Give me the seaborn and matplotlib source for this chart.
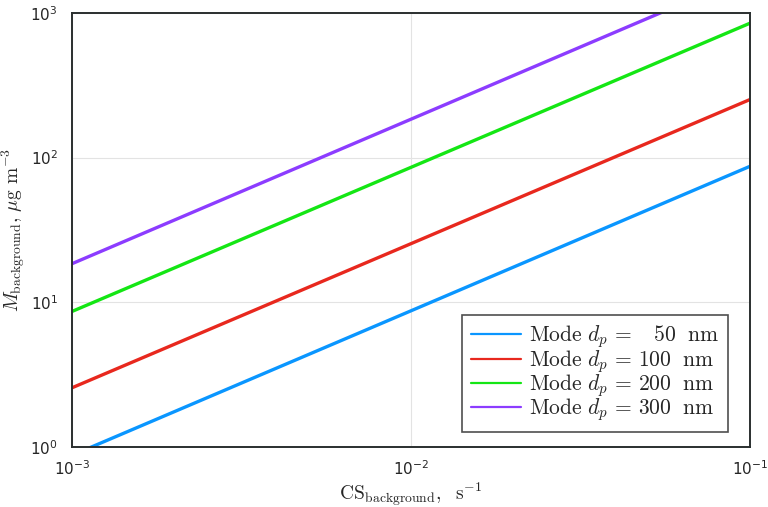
import pandas as pd
import numpy as np
import seaborn as sns
import matplotlib.pyplot as plt
from matplotlib.font_manager import FontProperties
from matplotlib.ticker import NullLocator, LogLocator

## Data (straight lines in log-log)
cs = [1e-3, 1e-1]
m_50 = [0.87, 87]
m_100 = [2.55, 252]
m_200 = [8.6, 850]
m_300 = [18.4, 1840]

labels = [r'$\mathrm{Mode}\ d_p\, =\ \ \ 50\ \ \mathrm{nm}$',
          r'$\mathrm{Mode}\ d_p\, =\, 100\ \ \mathrm{nm}$',
          r'$\mathrm{Mode}\ d_p\, =\, 200\ \ \mathrm{nm}$',
          r'$\mathrm{Mode}\ d_p\, =\, 300\ \ \mathrm{nm}$']
colors = ['#0a96ff', '#e8281e', '#14e614', '#8c3cff']

df = pd.concat([
    pd.DataFrame({'cs': cs, 'm': vals, 'mode': lab})
    for vals, lab in zip([m_50, m_100, m_200, m_300], labels)
])

sns.set_theme(style='white')
plt.rcParams['font.family'] = ['DejaVu Sans']

fig = plt.figure(figsize=(7.68, 5.07), dpi=100)
ax = fig.add_axes([0.0934, 0.119, 0.8832, 0.8554])

sns.lineplot(data=df, x='cs', y='m', hue='mode', palette=colors,
             linewidth=2.4, ax=ax)

ax.set_xscale('log')
ax.set_yscale('log')
ax.set_xlim(1e-3, 1e-1)
ax.set_ylim(1, 1000)
ax.xaxis.set_major_locator(LogLocator(base=10, numticks=10))
ax.yaxis.set_major_locator(LogLocator(base=10, numticks=10))
ax.xaxis.set_minor_locator(NullLocator())
ax.yaxis.set_minor_locator(NullLocator())
ax.grid(True, which='major', color='#e3e3e3', linewidth=0.8)
ax.tick_params(axis='both', which='major', direction='in', length=4,
               width=1, labelsize=11, color='#222222')
ax.tick_params(axis='x', pad=9)
ax.tick_params(axis='y', pad=10)

for sp in ax.spines.values():
    sp.set_color('#2a2f2f')
    sp.set_linewidth(1.4)

ax.set_xlabel(r'$\mathrm{CS}_{\mathrm{background}},\ \ \mathrm{s}^{-1}$',
              fontsize=14, math_fontfamily='cm', labelpad=2)
ax.set_ylabel(r'$M_{\mathrm{background}},\, \mu\mathrm{g\ m}^{-3}$',
              fontsize=14, math_fontfamily='cm', labelpad=2)

leg = ax.legend(loc='lower right', bbox_to_anchor=(0.968, 0.034),
                prop=FontProperties(size=15.5, math_fontfamily='cm'),
                frameon=True, fancybox=False, handlelength=2.3,
                labelspacing=-0.12, borderpad=0.4, handletextpad=0.4,
                borderaxespad=0)
leg.get_frame().set_edgecolor('#222222')
leg.get_frame().set_linewidth(1.2)
for line in leg.get_lines():
    line.set_linewidth(1.6)

plt.savefig('out.png', dpi=100)
